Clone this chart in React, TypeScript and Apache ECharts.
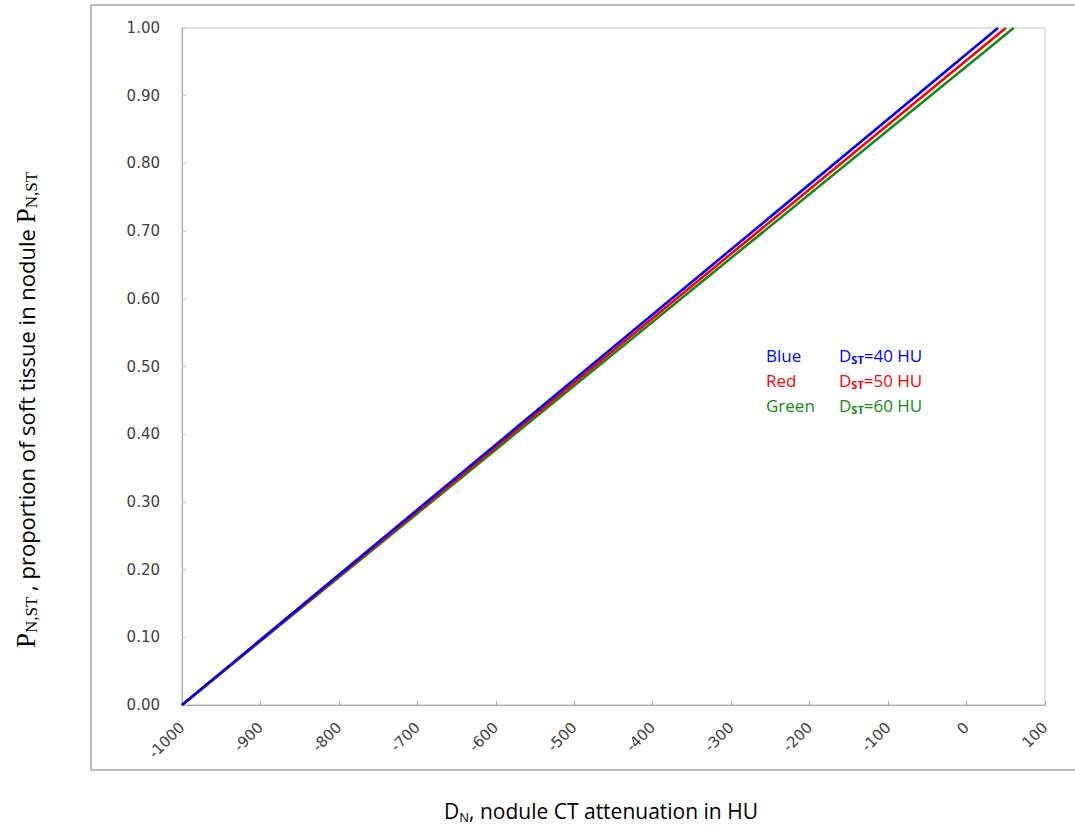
import React, { useEffect, useRef } from "react";
import * as echarts from "echarts";

// ---- data ----
const seriesNames = ["Blue", "Red", "Green"];
const seriesColors = ["#0000ff", "#ff0000", "#138a13"];
const dstValues = [40, 50, 60]; // D_ST in HU
// each line: points [D_N, P_N,ST]
const blueLine = [[-1000, 0], [40, 1]];
const redLine = [[-1000, 0], [50, 1]];
const greenLine = [[-1000, 0], [60, 1]];
const lines = [blueLine, redLine, greenLine];
const xTicks = { min: -1000, max: 100, interval: 100 };
const yTicks = { min: 0, max: 1, interval: 0.1 };

const SANS = "'Open Sans', 'Noto Sans', sans-serif";
const SERIF = "'Liberation Serif', 'DejaVu Serif', serif";
const AXIS_FONT = "'DejaVu Sans', Verdana, sans-serif";

export default function App() {
  const ref = useRef<HTMLDivElement>(null);

  useEffect(() => {
    document.body.style.margin = "0";
    if (!ref.current) return;
    const chart = echarts.init(ref.current, undefined, { renderer: "svg" });

    const legendRich: Record<string, any> = {};
    seriesNames.forEach((n, i) => {
      const c = seriesColors[i];
      legendRich[`n${i}`] = { color: c, fontFamily: SANS, fontSize: 17, width: 73, lineHeight: 20 };
      legendRich[`d${i}`] = { color: c, fontFamily: SANS, fontSize: 17, lineHeight: 20 };
      legendRich[`s${i}`] = {
        color: c,
        fontFamily: SANS,
        fontSize: 11,
        fontWeight: "bold",
        lineHeight: 20,
        padding: [8, 0, 0, 0],
      };
    });

    chart.setOption({
      animation: false,
      backgroundColor: "#ffffff",
      grid: {
        left: 182,
        top: 28,
        right: 30,
        bottom: 128,
        show: true,
        borderColor: "#c4c4c4",
        borderWidth: 1,
        containLabel: false,
      },
      xAxis: {
        type: "value",
        min: xTicks.min,
        max: xTicks.max,
        interval: xTicks.interval,
        axisLine: { show: true, onZero: false, lineStyle: { color: "#a6a6a6", width: 1 } },
        axisTick: { show: true, inside: true, length: 4, lineStyle: { color: "#a6a6a6" } },
        splitLine: { show: false },
        axisLabel: {
          rotate: 45,
          margin: 20,
          color: "#404040",
          fontFamily: AXIS_FONT,
          fontSize: 15,
          formatter: (v: number) => String(v),
        },
      },
      yAxis: {
        type: "value",
        min: yTicks.min,
        max: yTicks.max,
        interval: yTicks.interval,
        axisLine: { show: true, onZero: false, lineStyle: { color: "#a6a6a6", width: 1 } },
        axisTick: { show: true, inside: true, length: 4, lineStyle: { color: "#c8c8c8" } },
        splitLine: { show: false },
        axisLabel: {
          margin: 22,
          color: "#404040",
          fontFamily: AXIS_FONT,
          fontSize: 15,
          formatter: (v: number) => v.toFixed(2),
        },
      },
      legend: {
        orient: "vertical",
        left: 756,
        top: 341,
        icon: "none",
        itemWidth: 0,
        itemHeight: 0,
        itemGap: 6,
        selectedMode: false,
        data: seriesNames.map((n, i) => ({ name: n, textStyle: { color: seriesColors[i] } })),
        formatter: (name: string) => {
          const i = seriesNames.indexOf(name);
          return `{n${i}|${name}}{d${i}|D}{s${i}|ST}{d${i}|=${dstValues[i]} HU}`;
        },
        textStyle: { rich: legendRich, padding: 0 },
      },
      graphic: [
        {
          type: "rect",
          silent: true,
          shape: { x: 91, y: 5, width: 1000, height: 765 },
          style: { fill: "none", stroke: "#a9a9a9", lineWidth: 1.5 },
          z: -1,
        },
        {
          type: "text",
          x: 601,
          y: 811,
          style: {
            text: "{a|D}{b|N}{a|, nodule CT attenuation in HU}",
            align: "center",
            verticalAlign: "middle",
            rich: {
              a: { fontFamily: SANS, fontSize: 21, color: "#1a1a1a", lineHeight: 28 },
              b: { fontFamily: SANS, fontSize: 13, color: "#1a1a1a", lineHeight: 28, padding: [11, 0, 0, 0] },
            },
          },
        },
        {
          type: "text",
          x: 26,
          y: 410,
          rotation: Math.PI / 2,
          style: {
            text: "{p|P}{s|N,ST}{a| , proportion of soft tissue in nodule }{p|P}{s|N,ST}",
            align: "center",
            verticalAlign: "middle",
            rich: {
              p: { fontFamily: SERIF, fontSize: 27, color: "#1a1a1a", lineHeight: 32 },
              s: { fontFamily: SERIF, fontSize: 17, color: "#1a1a1a", lineHeight: 32, padding: [11, 0, 0, 0] },
              a: { fontFamily: SANS, fontSize: 22, color: "#1a1a1a", lineHeight: 32 },
            },
          },
        },
      ],
      series: seriesNames.map((n, i) => ({
        name: n,
        type: "line",
        data: lines[i],
        showSymbol: false,
        symbol: "none",
        clip: true,
        z: 10 - i,
        lineStyle: { color: seriesColors[i], width: 2.6 },
        itemStyle: { color: seriesColors[i] },
      })),
    });

    return () => chart.dispose();
  }, []);

  return <div ref={ref} style={{ width: 1075, height: 833 }} />;
}
